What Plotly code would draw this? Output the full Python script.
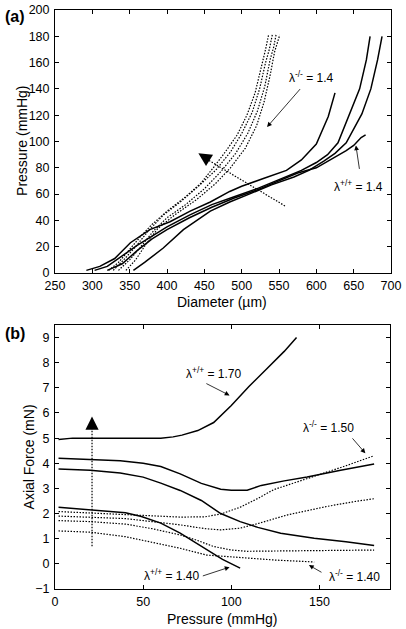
import plotly.graph_objects as go

# ---------------- Panel (a): Pressure vs Diameter ----------------
# solid curves (lambda +/+ group)
sa_d = [292, 310, 330, 351, 377, 404, 431, 458, 484, 500, 530, 560, 580, 600, 616, 625]
sa_p = [2, 5, 11, 23, 33, 39, 47, 54, 62, 66, 72, 78, 86, 98, 119, 137]
sb_d = [355, 370, 395, 422, 458, 484, 510, 540, 570, 590, 610, 625, 640, 661, 673, 682, 688]
sb_p = [2, 8, 19, 33, 47, 54, 60, 67, 73, 78, 85, 91, 99, 121, 140, 162, 180]
sc_d = [303, 320, 340, 360, 380, 400, 430, 460, 490, 520, 550, 580, 600, 615, 629, 645, 658, 667, 672]
sc_p = [2, 5, 13, 21, 28, 35, 44, 52, 58, 64, 71, 78, 84, 90, 99, 121, 140, 162, 180]
sd_d = [320, 340, 360, 380, 400, 430, 460, 490, 520, 550, 575, 600, 625, 640, 650, 660, 666]
sd_p = [2, 7, 17, 26, 33, 42, 50, 57, 63, 70, 76, 80, 88, 93, 97, 103, 105]
# dotted curves (lambda -/- group)
d1_d = [322, 335, 350, 365, 380, 400, 425, 445, 462, 478, 494, 507, 518, 526, 532, 536]
d1_p = [2, 8, 18, 28, 37, 47, 58, 68, 80, 92, 105, 120, 137, 155, 170, 181]
d2_d = [328, 342, 358, 375, 395, 420, 442, 465, 485, 500, 514, 524, 532, 537, 541]
d2_p = [2, 10, 20, 32, 44, 55, 66, 78, 92, 106, 122, 140, 160, 170, 181]
d3_d = [335, 350, 365, 382, 400, 425, 450, 472, 492, 508, 521, 531, 538, 543, 546]
d3_p = [2, 10, 20, 32, 42, 52, 64, 77, 91, 106, 123, 142, 162, 172, 181]
d4_d = [345, 358, 372, 388, 410, 440, 465, 485, 505, 520, 530, 538, 544, 548, 551]
d4_p = [2, 10, 22, 34, 44, 56, 68, 80, 95, 112, 130, 150, 168, 175, 181]

# ---------------- Panel (b): Axial force vs Pressure ----------------
b1_p = [2, 10, 20, 30, 40, 50, 60, 67, 72, 81, 90, 100, 110, 120, 130, 137]
b1_f = [4.95, 5.0, 5.0, 5.0, 5.0, 5.0, 5.0, 5.05, 5.12, 5.3, 5.62, 6.3, 7.05, 7.75, 8.45, 9.0]
b2_p = [2, 20, 37, 50, 60, 71, 83, 94, 100, 109, 117, 130, 143, 162, 181]
b2_f = [4.2, 4.15, 4.1, 4.0, 3.87, 3.58, 3.2, 2.97, 2.93, 2.93, 3.12, 3.3, 3.45, 3.72, 3.97]
b3_p = [2, 20, 37, 50, 60, 71, 83, 94, 105, 115, 128, 147, 165, 181]
b3_f = [3.77, 3.72, 3.61, 3.45, 3.21, 2.92, 2.52, 2.0, 1.68, 1.45, 1.22, 1.02, 0.88, 0.73]
b4_p = [2, 10, 25, 40, 49, 60, 71, 80, 86, 95, 105]
b4_f = [2.25, 2.2, 2.13, 2.03, 1.88, 1.62, 1.22, 0.82, 0.55, 0.18, -0.17]
e1_p = [2, 20, 40, 60, 71, 85, 94, 105, 115, 124, 135, 150, 165, 181]
e1_f = [2.08, 2.03, 1.97, 1.9, 1.86, 1.87, 1.98, 2.25, 2.6, 2.95, 3.2, 3.54, 3.9, 4.3]
e2_p = [2, 20, 40, 55, 71, 85, 94, 105, 115, 132, 154, 170, 181]
e2_f = [1.9, 1.86, 1.8, 1.68, 1.55, 1.4, 1.35, 1.42, 1.6, 1.95, 2.28, 2.48, 2.59]
e3_p = [2, 20, 40, 55, 71, 80, 90, 100, 109, 130, 150, 181]
e3_f = [1.72, 1.68, 1.58, 1.4, 1.15, 0.95, 0.69, 0.55, 0.5, 0.52, 0.53, 0.55]
e4_p = [2, 20, 40, 55, 71, 86, 100, 109, 125, 143, 147]
e4_f = [1.31, 1.26, 1.08, 0.85, 0.62, 0.35, 0.27, 0.22, 0.15, 0.09, 0.07]

solid = dict(color="black", width=1.5)
dotted = dict(color="black", width=1.2, dash="1.5px,1.5px")

fig = go.Figure()
for xs, ys in [(sa_d, sa_p), (sb_d, sb_p), (sc_d, sc_p), (sd_d, sd_p)]:
    fig.add_trace(go.Scatter(x=xs, y=ys, mode="lines", line=solid, xaxis="x", yaxis="y"))
for xs, ys in [(d1_d, d1_p), (d2_d, d2_p), (d3_d, d3_p), (d4_d, d4_p)]:
    fig.add_trace(go.Scatter(x=xs, y=ys, mode="lines", line=dotted, xaxis="x", yaxis="y"))
# dotted arrow shaft, panel (a)
fig.add_trace(go.Scatter(x=[558, 446], y=[51, 89], mode="lines", line=dotted, xaxis="x", yaxis="y"))

for xs, ys in [(b1_p, b1_f), (b2_p, b2_f), (b3_p, b3_f), (b4_p, b4_f)]:
    fig.add_trace(go.Scatter(x=xs, y=ys, mode="lines", line=solid, xaxis="x2", yaxis="y2"))
for xs, ys in [(e1_p, e1_f), (e2_p, e2_f), (e3_p, e3_f), (e4_p, e4_f)]:
    fig.add_trace(go.Scatter(x=xs, y=ys, mode="lines", line=dotted, xaxis="x2", yaxis="y2"))
# dotted arrow shaft, panel (b)
fig.add_trace(go.Scatter(x=[21, 21], y=[0.7, 5.6], mode="lines", line=dotted, xaxis="x2", yaxis="y2"))

font = "Liberation Sans, Arial, Helvetica, sans-serif"
ax_common = dict(showline=True, linecolor="black", linewidth=1, mirror="ticks",
                 ticks="inside", ticklen=4, tickcolor="black", showgrid=False,
                 zeroline=False, automargin=False, tickfont=dict(size=12.5, color="black"))

fig.update_layout(
    width=406, height=629,
    margin=dict(l=55, r=15, t=10, b=40),
    paper_bgcolor="white", plot_bgcolor="white",
    showlegend=False,
    font=dict(family=font, color="black"),
    xaxis=dict(domain=[0, 1], range=[250, 700], tickvals=list(range(250, 701, 50)),
               ticklabelstandoff=1, anchor="y", **ax_common),
    yaxis=dict(domain=[0.5458, 1.0], range=[0, 200], tickvals=list(range(0, 201, 20)),
               ticklabelstandoff=2, anchor="x", **ax_common),
    xaxis2=dict(domain=[0, 0.997], range=[0, 190], tickvals=[0, 50, 100, 150],
                ticklabelstandoff=1, anchor="y2", **ax_common),
    yaxis2=dict(domain=[0, 0.456], range=[-1, 9.5], tickvals=list(range(-1, 10)),
                ticklabelstandoff=2, anchor="x2", **ax_common),
)

ann = []
tf = dict(size=12, color="black", family=font)
ttf = dict(size=14, color="black", family=font)
pc = dict(xref="paper", yref="paper", showarrow=False, xanchor="center", yanchor="middle")
# axis titles
ann.append(dict(text="Diameter (µm)", x=0.497, y=0.4957, font=ttf, **pc))
ann.append(dict(text="Pressure (mmHg)", x=0.497, y=-0.051, font=ttf, **pc))
ann.append(dict(text="Pressure (mmHg)", x=-0.098, y=0.774, textangle=-90, font=ttf, **pc))
ann.append(dict(text="Axial Force (mN)", x=-0.076, y=0.228, textangle=-90, font=ttf, **pc))
# panel labels
ann.append(dict(text="<b>(a)</b>", x=-0.119, y=0.988,
                font=dict(size=16, color="black", family=font), **pc))
ann.append(dict(text="<b>(b)</b>", x=-0.119, y=0.442,
                font=dict(size=16, color="black", family=font), **pc))
# panel (a) texts and arrows
ann.append(dict(text="λ<sup>-/-</sup> = 1.4", x=593, y=149, xref="x", yref="y",
                showarrow=False, font=tf))
ann.append(dict(text="", x=534, y=111, ax=580, ay=141, xref="x", yref="y", axref="x", ayref="y",
                showarrow=True, arrowhead=2, arrowsize=1.2, arrowwidth=0.8, arrowcolor="black"))
ann.append(dict(text="λ<sup>+/+</sup> = 1.4", x=656, y=66, xref="x", yref="y",
                showarrow=False, font=tf))
ann.append(dict(text="", x=653, y=97, ax=658, ay=78, xref="x", yref="y", axref="x", ayref="y",
                showarrow=True, arrowhead=2, arrowsize=1.2, arrowwidth=0.8, arrowcolor="black"))
ann.append(dict(text="", x=442, y=91, ax=449, ay=88.5, xref="x", yref="y", axref="x", ayref="y",
                showarrow=True, arrowhead=2, arrowsize=2.2, arrowwidth=1.2, arrowcolor="black"))
# panel (b) texts and arrows
ann.append(dict(text="λ<sup>+/+</sup> = 1.70", x=90, y=7.6, xref="x2", yref="y2",
                showarrow=False, font=tf))
ann.append(dict(text="", x=99, y=6.7, ax=85, ay=7.2, xref="x2", yref="y2", axref="x2", ayref="y2",
                showarrow=True, arrowhead=2, arrowsize=1.2, arrowwidth=0.8, arrowcolor="black"))
ann.append(dict(text="λ<sup>-/-</sup> = 1.50", x=155, y=5.45, xref="x2", yref="y2",
                showarrow=False, font=tf))
ann.append(dict(text="", x=176, y=4.4, ax=168, ay=5.05, xref="x2", yref="y2", axref="x2", ayref="y2",
                showarrow=True, arrowhead=2, arrowsize=1.2, arrowwidth=0.8, arrowcolor="black"))
ann.append(dict(text="λ<sup>+/+</sup> = 1.40", x=66, y=-0.45, xref="x2", yref="y2",
                showarrow=False, font=tf))
ann.append(dict(text="", x=99, y=-0.13, ax=83, ay=-0.5, xref="x2", yref="y2", axref="x2", ayref="y2",
                showarrow=True, arrowhead=2, arrowsize=1.2, arrowwidth=0.8, arrowcolor="black"))
ann.append(dict(text="λ<sup>-/-</sup> = 1.40", x=170, y=-0.5, xref="x2", yref="y2",
                showarrow=False, font=tf))
ann.append(dict(text="", x=144, y=-0.05, ax=152, ay=-0.37, xref="x2", yref="y2", axref="x2", ayref="y2",
                showarrow=True, arrowhead=2, arrowsize=1.2, arrowwidth=0.8, arrowcolor="black"))
ann.append(dict(text="", x=21, y=5.86, ax=21, ay=5.6, xref="x2", yref="y2", axref="x2", ayref="y2",
                showarrow=True, arrowhead=2, arrowsize=2.2, arrowwidth=1.2, arrowcolor="black"))
fig.update_layout(annotations=ann)

fig.write_html(
    "out.html",
    config={"displayModeBar": False},
    post_script="document.body.style.margin='0';document.body.style.overflow='hidden';",
)
